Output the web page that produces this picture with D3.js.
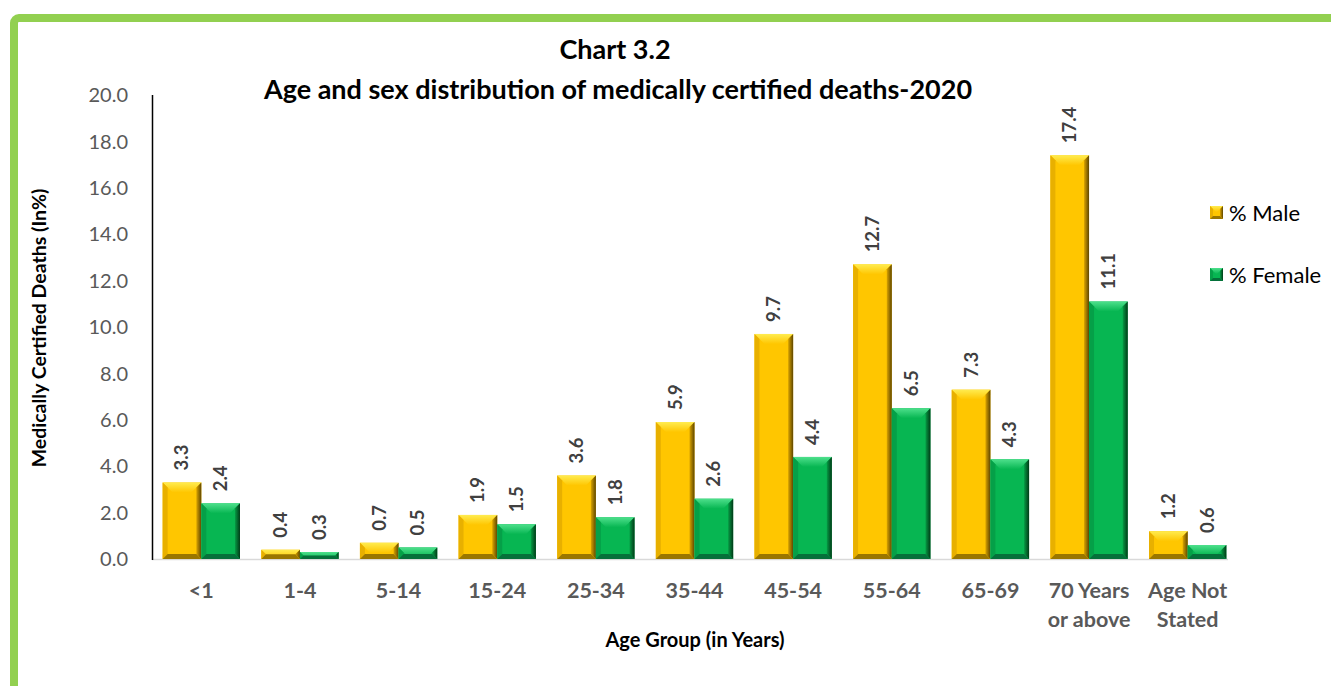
<!DOCTYPE html>
<html><head><meta charset="utf-8">
<script src="https://cdn.jsdelivr.net/npm/d3@7"></script>
<style>
html,body{margin:0;padding:0;background:#fff;}
svg{display:block;font-family:Lato,"Open Sans",sans-serif;}
</style></head>
<body>
<svg id="chart" width="1331" height="686"></svg>
<script>
const categories = ["<1","1-4","5-14","15-24","25-34","35-44","45-54","55-64","65-69","70 Years\nor above","Age Not\nStated"];
const male = [3.3,0.4,0.7,1.9,3.6,5.9,9.7,12.7,7.3,17.4,1.2];
const female = [2.4,0.3,0.5,1.5,1.8,2.6,4.4,6.5,4.3,11.1,0.6];
const yTicks = [0,2,4,6,8,10,12,14,16,18,20];
const seriesNames = ["% Male","% Female"];

const svg = d3.select("#chart");

// border
svg.append("rect").attr("x",14).attr("y",18).attr("width",1400).attr("height",800)
  .attr("rx",5).attr("fill","none").attr("stroke","#92D050").attr("stroke-width",8);

const x = d3.scaleBand().domain(categories).range([152,1237]).padding(0);
const y = d3.scaleLinear().domain([0,20]).range([559,95]);

const colors = {
  male:{main:"#FFC600",top:"#FFEC50",right:"#5E4600",rightL:"#D9A300",bottom:"#9A7600",left:"#E8B000"},
  female:{main:"#07B652",top:"#4EE08C",right:"#013A17",rightL:"#069A44",bottom:"#05703A",left:"#05A048"}
};

const defs = svg.append("defs");
function grad(id, c1, c2, horiz){
  const g = defs.append("linearGradient").attr("id",id)
    .attr("x1",0).attr("y1",0).attr("x2",horiz?1:0).attr("y2",horiz?0:1);
  g.append("stop").attr("offset","0%").attr("stop-color",c1);
  g.append("stop").attr("offset","100%").attr("stop-color",c2);
}
["male","female"].forEach(k=>{
  const c = colors[k];
  grad(k+"R", c.rightL, c.right, true);
  grad(k+"T", c.top, c.main, false);
});

// y axis labels
svg.append("g").selectAll("text").data(yTicks).join("text")
  .attr("x",128).attr("y",d=>y(d)).attr("dy","0.36em").attr("text-anchor","end")
  .attr("fill","#595959").attr("font-size",20).text(d=>d.toFixed(1));

// baseline
svg.append("line").attr("x1",152).attr("x2",1228).attr("y1",y(0)+0.5).attr("y2",y(0)+0.5)
  .attr("stroke","#D9D9D9").attr("stroke-width",1.5);
// y axis line
svg.append("line").attr("x1",152.5).attr("x2",152.5).attr("y1",95).attr("y2",y(0)+1)
  .attr("stroke","#000").attr("stroke-width",1.5);

const step = x.bandwidth();
const bw = step*0.392;

function bevelBar(g, x0, y0, w, h, k, bmax){
  const c = colors[k];
  const b = Math.min(bmax||6, h/2, w/2);
  g.append("rect").attr("x",x0).attr("y",y0).attr("width",w).attr("height",h).attr("fill",c.main);
  const poly = (pts, fill)=>g.append("polygon").attr("points",pts.map(p=>p.join(",")).join(" ")).attr("fill",fill);
  poly([[x0,y0],[x0+w,y0],[x0+w-b*2,y0+b*2],[x0+b*2,y0+b*2]], `url(#${k}T)`);
  poly([[x0,y0],[x0+b,y0+b],[x0+b,y0+h-b],[x0,y0+h]], c.left);
  poly([[x0+w,y0],[x0+w,y0+h],[x0+w-b,y0+h-b],[x0+w-b,y0+b]], `url(#${k}R)`);
  poly([[x0,y0+h],[x0+w,y0+h],[x0+w-b,y0+h-b],[x0+b,y0+h-b]], c.bottom);
}

const barsG = svg.append("g");
categories.forEach((cat,i)=>{
  const cx = x(cat) + step/2;
  [["male",male[i],cx-bw],["female",female[i],cx]].forEach(([k,v,bx])=>{
    const g = barsG.append("g");
    bevelBar(g, bx, y(v), bw, y(0)-y(v), k, 5);
    svg.append("text")
      .attr("transform",`translate(${bx+bw/2+6.5},${y(v)-12}) rotate(-90)`)
      .attr("text-anchor","start").attr("fill","#404040").attr("font-size",18.5).attr("font-weight","bold")
      .text(v.toFixed(1));
  });
});

// x labels
const xl = svg.append("g");
categories.forEach(cat=>{
  const lines = cat.split("\n");
  const t = xl.append("text").attr("x",x(cat)+step/2).attr("y",598).attr("text-anchor","middle")
    .attr("fill","#595959").attr("font-size",21.5).attr("font-weight","bold");
  lines.forEach((l,j)=>t.append("tspan").attr("x",x(cat)+step/2).attr("dy",j?29:0).text(l));
});

// titles
svg.append("text").attr("x",615).attr("y",59).attr("text-anchor","middle").attr("font-size",27)
  .attr("font-weight","bold").attr("fill","#000").text("Chart 3.2");
svg.append("text").attr("x",618).attr("y",99).attr("text-anchor","middle").attr("font-size",27)
  .attr("font-weight","bold").attr("fill","#000").text("Age and sex distribution of medically certified deaths-2020");
svg.append("text").attr("x",695).attr("y",647).attr("text-anchor","middle").attr("font-size",20)
  .attr("font-weight","bold").attr("fill","#000").text("Age Group (in Years)");
svg.append("text").attr("transform","translate(46,328) rotate(-90)").attr("text-anchor","middle")
  .attr("font-size",19.5).attr("font-weight","bold").attr("fill","#000").text("Medically Certified Deaths (In%)");

// legend
const lg = svg.append("g");
[["male",seriesNames[0],206],["female",seriesNames[1],268]].forEach(([k,name,ly])=>{
  bevelBar(lg, 1210, ly, 13, 13, k, 3);
  lg.append("text").attr("x",1229).attr("y",ly+7).attr("dy","0.36em").attr("font-size",22)
    .attr("fill","#000").text(name);
});
</script>
</body></html>
